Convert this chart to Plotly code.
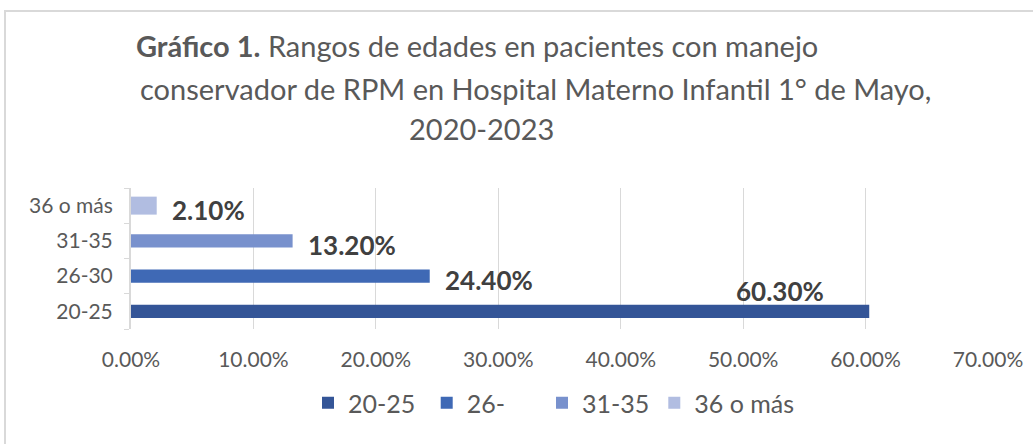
import plotly.graph_objects as go

# data
categories = ["20-25", "26-30", "31-35", "36 o más"]
legend_names = ["20-25", "26-", "31-35", "36 o más"]
values = [0.603, 0.244, 0.132, 0.021]
value_labels = ["60.30%", "24.40%", "13.20%", "2.10%"]
colors = ["#345597", "#3F69B5", "#7891CD", "#B1BDE1"]
x_ticks = [0, 0.1, 0.2, 0.3, 0.4, 0.5, 0.6, 0.7]

title_lines = [
    "<b>Gráfico 1.</b> Rangos de edades en pacientes con manejo",
    "conservador de RPM en Hospital Materno Infantil 1° de Mayo,",
    "2020-2023",
]

# style: bar thickness per category and legend padding
bar_widths = [0.37, 0.37, 0.37, 0.51]
legend_pad = [1, 5, 0, 0]

W, H = 1033, 444
L, R, T, B = 131, 45, 188, 115
pw, ph = W - L - R, H - T - B

def px_x(x):
    return (x - L) / pw

def px_y(y):
    return (H - B - y) / ph

font = "Lato"
grey = "#595959"

fig = go.Figure()
for cat, name, v, c, w, pad in zip(categories, legend_names, values, colors, bar_widths, legend_pad):
    fig.add_trace(go.Bar(
        y=[cat], x=[v], name=name + "\u00a0" * pad, orientation="h",
        marker=dict(color=c, line=dict(width=0)), width=w,
    ))

# data labels (placed the way the original has them dragged)
for i, (cat, v, lab) in enumerate(zip(categories, values, value_labels)):
    if i == 0:
        fig.add_annotation(x=v, y=cat, text="<b>%s</b>" % lab, showarrow=False,
                           xanchor="right", yanchor="middle", xshift=-43, yshift=20,
                           font=dict(family=font, size=26, color="#404040"))
    else:
        fig.add_annotation(x=v, y=cat, text="<b>%s</b>" % lab, showarrow=False,
                           xanchor="left", yanchor="middle", xshift=13, yshift=-4,
                           font=dict(family=font, size=26, color="#404040"))

# title, three centred lines like the original
for txt, cx, cy in zip(title_lines, [477, 535, 481], [45, 88, 128]):
    fig.add_annotation(x=px_x(cx), y=px_y(cy), xref="paper", yref="paper",
                       text=txt, showarrow=False, xanchor="center", yanchor="middle",
                       font=dict(family=font, size=29, color=grey))

# chart border
fig.add_shape(type="rect", xref="paper", yref="paper",
              x0=px_x(5), x1=px_x(1045), y0=px_y(460), y1=px_y(11),
              line=dict(color="#D9D9D9", width=2), fillcolor="rgba(0,0,0,0)", layer="below")

fig.update_layout(
    width=W, height=H,
    margin=dict(l=L, r=R, t=T, b=B, autoexpand=False),
    paper_bgcolor="white", plot_bgcolor="white",
    barmode="overlay",
    showlegend=True,
    legend=dict(orientation="h", x=px_x(554), xanchor="center", y=px_y(403), yanchor="middle",
                font=dict(family=font, size=25, color=grey),
                traceorder="normal"),
    font=dict(family=font, color=grey),
)
fig.update_xaxes(range=[0, 0.7], tickvals=x_ticks, tickformat=".2%",
                 showgrid=True, gridcolor="#D9D9D9", gridwidth=1,
                 zeroline=False, showline=False, ticks="", automargin=False,
                 ticklabelstandoff=16,
                 tickfont=dict(family=font, size=21, color=grey))
fig.update_yaxes(categoryorder="array", categoryarray=categories,
                 showline=True, linecolor="#D9D9D9", linewidth=2, automargin=False,
                 ticks="outside", tickson="boundaries", ticklen=5, tickcolor="#D9D9D9",
                 ticklabelstandoff=12, showgrid=False,
                 tickfont=dict(family=font, size=21, color=grey))

# the page's default body margin would push the figure 8px off
fig.write_html("out.html", config={"displayModeBar": False},
               post_script="document.body.style.margin='0px';")
